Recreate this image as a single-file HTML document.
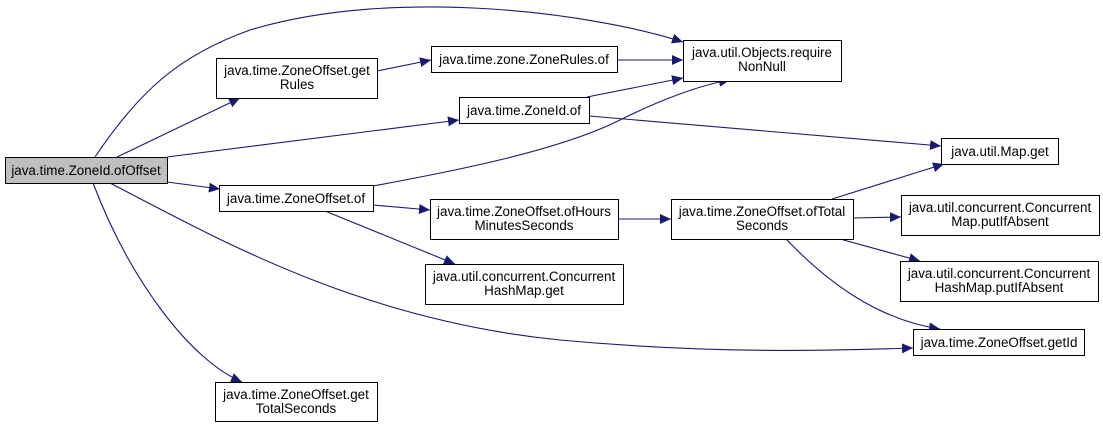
<!DOCTYPE html>
<html><head><meta charset="utf-8"><style>
html,body{margin:0;padding:0;background:#fff;}
svg{display:block;}
text{font-family:"Liberation Sans",Arial,sans-serif;font-size:13.4px;fill:#000;}
</style></head><body>
<svg width="1103" height="428" viewBox="0 0 1103 428" xmlns="http://www.w3.org/2000/svg">
<defs>
<marker id="a" markerWidth="12" markerHeight="10" refX="11" refY="5" orient="auto" markerUnits="userSpaceOnUse">
<path d="M0,0 L11,5 L0,10 Z" fill="#191970"/>
</marker>
</defs>
<g fill="none" stroke="#191970" stroke-width="1.1" marker-end="url(#a)">
<path d="M95,157 C140,90 180,55 250,30 C400,-15 600,15 683,42"/>
<path d="M117,157 L240,98"/>
<path d="M167,157 L459,120"/>
<path d="M167,182 L220,189"/>
<path d="M110,183 C220,240 360,320 560,340 C720,355 850,350 913,348"/>
<path d="M93,183 C130,280 190,360 242,382"/>
<path d="M377,71 L431,60"/>
<path d="M617,60 L683,60"/>
<path d="M587,97 L683,78"/>
<path d="M589,116 L941,146"/>
<path d="M373,186 C460,170 560,150 620,120 C660,100 700,85 730,80"/>
<path d="M373,205 L430,210"/>
<path d="M325,211 L455,264"/>
<path d="M618,219 L671,219"/>
<path d="M832,199 L944,164"/>
<path d="M853,218 L901,217"/>
<path d="M840,239 L920,261"/>
<path d="M786,239 C830,285 880,320 940,329"/>
</g>
<g stroke="#000" stroke-width="1" fill="#fff">
<rect x="5.5" y="157.5" width="162" height="26" fill="#bfbfbf"/>
<rect x="216.5" y="58.5" width="161" height="40"/>
<rect x="431.5" y="46.5" width="186" height="26"/>
<rect x="683.5" y="40.5" width="158" height="41"/>
<rect x="459.5" y="97.5" width="130" height="26"/>
<rect x="941.5" y="138.5" width="117" height="26"/>
<rect x="219.5" y="185.5" width="154" height="26"/>
<rect x="430.5" y="199.5" width="188" height="40"/>
<rect x="671.5" y="199.5" width="182" height="40"/>
<rect x="901.5" y="195.5" width="198" height="40"/>
<rect x="900.5" y="261.5" width="198" height="40"/>
<rect x="425.5" y="264.5" width="198" height="40"/>
<rect x="913.5" y="329.5" width="171" height="26"/>
<rect x="215.5" y="382.5" width="162" height="39"/>
</g>
<g text-anchor="middle">
<text x="86" y="175">java.time.ZoneId.ofOffset</text>
<text x="297" y="75">java.time.ZoneOffset.get</text>
<text x="297" y="89">Rules</text>
<text x="524" y="64">java.time.zone.ZoneRules.of</text>
<text x="762" y="57">java.util.Objects.require</text>
<text x="762" y="71">NonNull</text>
<text x="524" y="115">java.time.ZoneId.of</text>
<text x="1000" y="156">java.util.Map.get</text>
<text x="296" y="203">java.time.ZoneOffset.of</text>
<text x="524" y="216">java.time.ZoneOffset.ofHours</text>
<text x="524" y="230">MinutesSeconds</text>
<text x="762" y="216">java.time.ZoneOffset.ofTotal</text>
<text x="762" y="230">Seconds</text>
<text x="1000" y="212">java.util.concurrent.Concurrent</text>
<text x="1000" y="226">Map.putIfAbsent</text>
<text x="999" y="278">java.util.concurrent.Concurrent</text>
<text x="999" y="292">HashMap.putIfAbsent</text>
<text x="524" y="281">java.util.concurrent.Concurrent</text>
<text x="524" y="295">HashMap.get</text>
<text x="999" y="347">java.time.ZoneOffset.getId</text>
<text x="296" y="399">java.time.ZoneOffset.get</text>
<text x="296" y="413">TotalSeconds</text>
</g>
</svg>
</body></html>
